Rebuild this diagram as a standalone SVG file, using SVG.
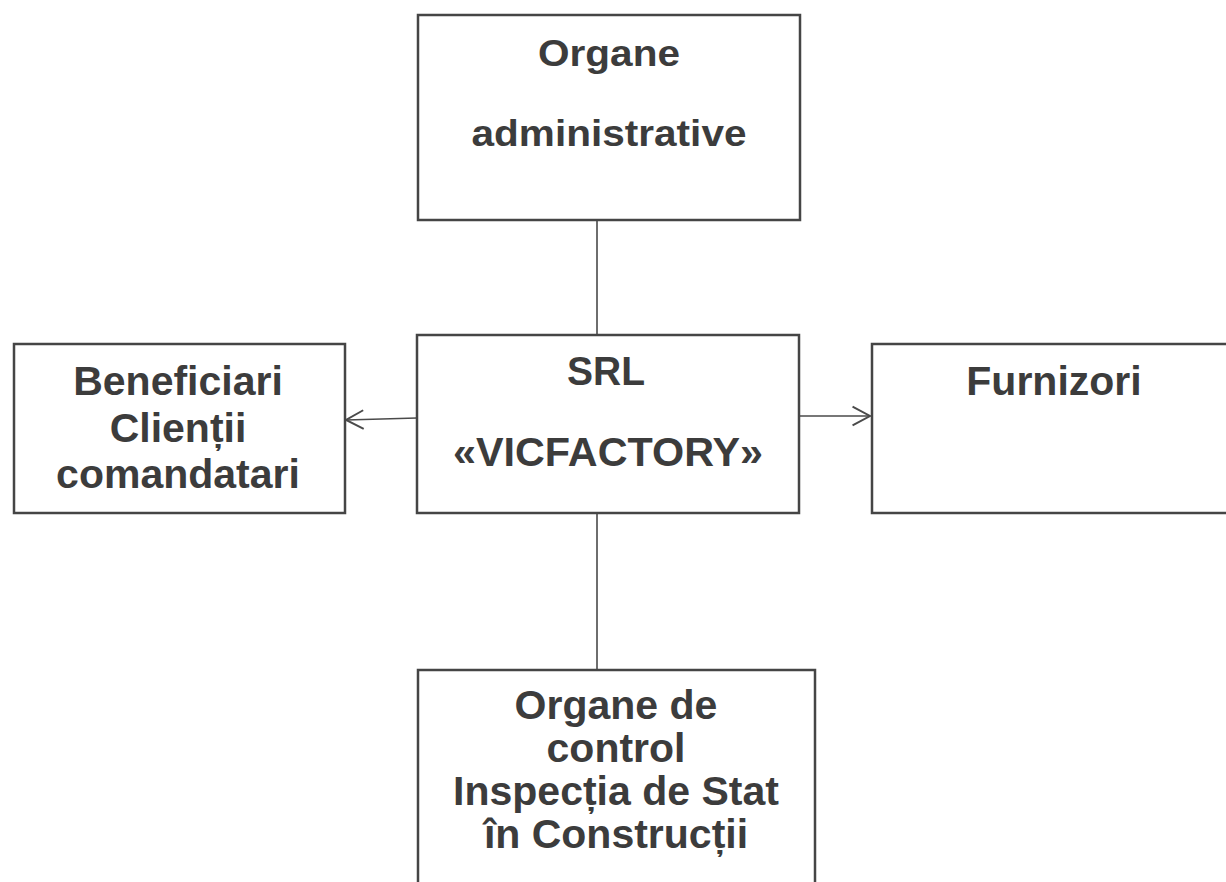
<svg xmlns="http://www.w3.org/2000/svg" width="1226" height="882" viewBox="0 0 1226 882">
<style>
.box{fill:#fff;stroke:#454545;stroke-width:2.5}
.t{font-family:"Liberation Sans",Arial,sans-serif;font-weight:bold;fill:#3c3c3c;text-anchor:middle}
.c{stroke:#4a4a4a;stroke-width:1.6;fill:none}
</style>
<defs>
<marker id="ah" markerUnits="userSpaceOnUse" markerWidth="24" markerHeight="24" viewBox="-18 -10 22 20" refX="0" refY="0" orient="auto">
<path d="M-16,-8.5 L0,0 L-16,8.5" fill="none" stroke="#4a4a4a" stroke-width="1.8"/>
</marker>
</defs>
<rect width="1226" height="882" fill="#fff"/>
<g id="connectors">
<line class="c" x1="597" y1="220" x2="597" y2="335"/>
<line class="c" x1="597" y1="513" x2="597" y2="670"/>
<line class="c" x1="417" y1="418" x2="346" y2="420" marker-end="url(#ah)"/>
<line class="c" x1="799" y1="416" x2="870" y2="416" marker-end="url(#ah)"/>
</g>
<g id="admin">
<rect class="box" x="418" y="15" width="382" height="205"/>
<text class="t" x="609" y="66" font-size="37" textLength="142" lengthAdjust="spacingAndGlyphs">Organe</text>
<text class="t" x="609" y="146" font-size="37" textLength="275" lengthAdjust="spacingAndGlyphs">administrative</text>
</g>
<g id="srl">
<rect class="box" x="417" y="335" width="382" height="178"/>
<text class="t" x="606" y="385" font-size="40" textLength="78" lengthAdjust="spacingAndGlyphs">SRL</text>
<text class="t" x="608" y="466" font-size="41" textLength="310" lengthAdjust="spacingAndGlyphs">«VICFACTORY»</text>
</g>
<g id="beneficiari">
<rect class="box" x="14" y="344" width="331" height="169"/>
<text class="t" x="178" y="395" font-size="41">Beneficiari</text>
<text class="t" x="178" y="442" font-size="41">Clienții</text>
<text class="t" x="178" y="488" font-size="41">comandatari</text>
</g>
<g id="furnizori">
<rect class="box" x="872" y="344" width="365" height="169"/>
<text class="t" x="1054" y="395" font-size="41">Furnizori</text>
</g>
<g id="control">
<rect class="box" x="418" y="670" width="397" height="240"/>
<text class="t" x="616" y="719" font-size="41">Organe de</text>
<text class="t" x="616" y="762" font-size="41">control</text>
<text class="t" x="616" y="805" font-size="41">Inspecția de Stat</text>
<text class="t" x="616" y="848" font-size="41">în Construcții</text>
</g>
</svg>
